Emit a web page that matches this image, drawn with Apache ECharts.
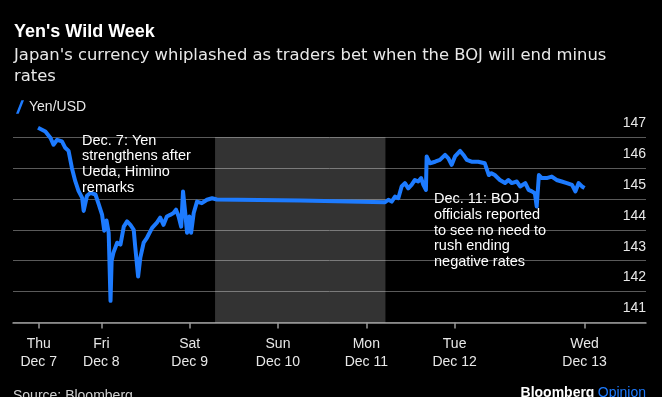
<!DOCTYPE html>
<html>
<head>
<meta charset="utf-8">
<script src="https://cdn.jsdelivr.net/npm/echarts@6/dist/echarts.min.js"></script>
<style>
  html, body { margin: 0; padding: 0; background: #000; }
  #chart { width: 662px; height: 397px; }
</style>
</head>
<body>
<div id="chart"></div>
<script>
// Hours since Thu Dec 7 00:00
const hours = [
  6.8, 8.8, 10.2, 11.0, 12.0, 13.3, 14.2, 15.1, 16.0, 16.9, 17.8, 18.8, 19.2, 20.1, 21.0, 22.4, 23.3,
  24.2, 24.8, 25.4, 26.0, 26.5, 26.8, 27.3, 28.3, 29.2, 30.1, 31.0, 31.9, 32.8, 33.2, 34.0, 34.6,
  35.5, 36.4, 37.8, 39.1, 40.0, 40.9, 41.8, 42.7, 43.6, 44.3, 45.0, 45.7, 46.2, 46.8, 47.3, 47.9,
  48.4, 49.1, 50.0, 51.3, 52.7, 54.1, 55.4, 78.0,
  101.1, 102.0, 102.9, 103.8, 104.7, 105.6, 106.5, 107.4, 108.3, 109.2, 110.1, 110.9, 111.5, 112.2,
  112.4, 113.3, 114.7, 116.0, 117.4, 118.3, 119.2, 120.1, 121.5, 122.4, 123.3, 124.6, 126.4, 128.2,
  129.3, 130.0, 130.9, 132.3, 133.7, 134.6, 135.5, 136.9, 137.8, 139.2, 140.1, 141.0, 141.8, 142.3,
  142.9, 143.7, 145.0, 146.4, 147.7, 149.1, 150.5, 151.9, 152.8, 153.7, 154.6, 155.3
];
const yenPerUsd = [
  147.30, 147.18, 146.97, 146.75, 146.91, 146.86, 146.65, 146.55, 146.00, 145.58, 145.26, 145.03, 144.61, 145.10, 145.19, 145.14, 144.82,
  144.49, 143.97, 144.30, 143.90, 141.70, 143.00, 143.26, 143.58, 143.52, 144.10, 144.27, 144.16, 144.00, 143.46, 142.49, 143.10,
  143.58, 143.74, 144.06, 144.23, 144.39, 144.16, 144.43, 144.48, 144.54, 144.65, 144.43, 144.10, 145.24, 144.54, 143.90, 144.43,
  143.90, 144.54, 144.91, 144.86, 144.97, 145.02, 144.98, 144.95,
  144.89, 144.97, 144.91, 145.07, 145.02, 145.40, 145.51, 145.34, 145.45, 145.61, 145.56, 145.67, 145.45, 145.29,
  146.37, 146.15, 146.20, 146.26, 146.42, 146.31, 146.10, 146.37, 146.55, 146.42, 146.26, 146.20, 146.20, 146.15,
  145.77, 145.83, 145.77, 145.61, 145.51, 145.61, 145.51, 145.56, 145.40, 145.51, 145.29, 145.24, 145.18, 144.75,
  145.77, 145.67, 145.67, 145.72, 145.61, 145.56, 145.51, 145.45, 145.24, 145.51, 145.40, 145.35
];
const xTickHours = [7, 24, 48, 72, 96, 120, 155.3];
const xTickLabels = ['Thu\nDec 7', 'Fri\nDec 8', 'Sat\nDec 9', 'Sun\nDec 10', 'Mon\nDec 11', 'Tue\nDec 12', 'Wed\nDec 13'];
const weekendShade = [54.9, 101.2];
const yTicks = [141, 142, 143, 144, 145, 146, 147];

const FONT = '"Liberation Sans", Arial, Helvetica, sans-serif';
const SUBFONT = '"DejaVu Sans", "Liberation Sans", sans-serif';
const BLUE = '#1d7bff';

const SUB1 = "Japan's currency whiplashed as traders bet when the BOJ will end minus";
// size the subtitle so its first line spans the same width as the original
const mctx = document.createElement('canvas').getContext('2d');
mctx.font = '16px ' + SUBFONT;
const subSize = Math.round(16 * 594 / mctx.measureText(SUB1).width * 10) / 10;

const chart = echarts.init(document.getElementById('chart'), null, { renderer: 'canvas' });
chart.setOption({
  backgroundColor: '#000',
  animation: false,
  textStyle: { fontFamily: FONT },
  title: {
    text: "Yen's Wild Week",
    left: 9,
    top: 16,
    textStyle: { color: '#fff', fontSize: 18, fontWeight: 'bold', fontFamily: FONT, lineHeight: 22 }
  },
  legend: {
    left: 11,
    top: 95,
    itemWidth: 8,
    itemHeight: 14,
    itemGap: 6,
    icon: 'path://M3,10 L7,0 L9,0 L5,10 Z',
    textStyle: { color: '#e8e8e8', fontSize: 14, fontFamily: FONT },
    data: [{ name: 'Yen/USD', itemStyle: { color: BLUE } }]
  },
  grid: { left: 13, right: 16, top: 137, bottom: 74.5 },
  xAxis: {
    type: 'value',
    min: 0,
    max: 172,
    splitLine: { show: false },
    axisLine: { show: true, lineStyle: { color: '#999', width: 1.5 } },
    axisTick: { show: true, customValues: xTickHours, length: 6, lineStyle: { color: '#999', width: 1.5 } },
    axisLabel: {
      customValues: xTickHours,
      color: '#e8e8e8',
      fontSize: 14,
      lineHeight: 18,
      margin: 13,
      fontFamily: FONT,
      formatter: function (v) {
        const i = xTickHours.indexOf(v);
        return i >= 0 ? xTickLabels[i] : '';
      }
    }
  },
  yAxis: {
    type: 'value',
    position: 'right',
    min: 141,
    max: 147,
    interval: 1,
    axisLine: { show: false },
    axisTick: { show: false },
    splitLine: { show: true, lineStyle: { color: '#5a5a5a', width: 1 } },
    axisLabel: {
      inside: true,
      margin: 0,
      color: '#e8e8e8',
      fontSize: 14,
      fontFamily: FONT,
      verticalAlign: 'bottom',
      lineHeight: 14,
      padding: [0, 0, 7, 0],
      formatter: function (v) { return yTicks.indexOf(v) >= 0 ? String(v) : ''; }
    }
  },
  series: [{
    name: 'Yen/USD',
    type: 'line',
    data: hours.map((h, i) => [h, yenPerUsd[i]]),
    showSymbol: false,
    clip: false,
    lineStyle: { color: BLUE, width: 4, join: 'round' },
    itemStyle: { color: BLUE },
    markArea: {
      silent: true,
      itemStyle: { color: 'rgba(255,255,255,0.2)' },
      data: [[{ xAxis: weekendShade[0] }, { xAxis: weekendShade[1] }]]
    },
    z: 2
  }],
  graphic: [
    {
      type: 'text', left: 14, top: 45, z: 10,
      style: {
        text: SUB1 + '\nrates',
        fill: '#e8e8e8', font: subSize + 'px ' + SUBFONT, lineHeight: 21
      }
    },
    {
      type: 'text', left: 82, top: 133, z: 10,
      style: {
        text: 'Dec. 7: Yen\nstrengthens after\nUeda, Himino\nremarks',
        fill: '#fff', font: '14.5px ' + FONT, lineHeight: 15.6
      }
    },
    {
      type: 'text', left: 434, top: 191.5, z: 10,
      style: {
        text: 'Dec. 11: BOJ\nofficials reported\nto see no need to\nrush ending\nnegative rates',
        fill: '#fff', font: '14.5px ' + FONT, lineHeight: 15.6
      }
    },
    {
      type: 'text', left: 13, top: 389, z: 10,
      style: { text: 'Source: Bloomberg', fill: '#d0d0d0', font: '14px ' + FONT }
    },
    {
      type: 'text', right: 16, top: 386, z: 10,
      style: {
        text: '{a|Bloomberg} {b|Opinion}',
        rich: {
          a: { fill: '#fff', font: 'bold 14px ' + FONT },
          b: { fill: BLUE, font: '14px ' + FONT }
        }
      }
    }
  ]
});
</script>
</body>
</html>
